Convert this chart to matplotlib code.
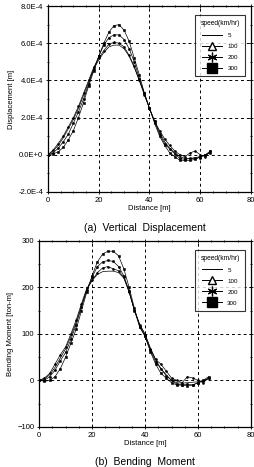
"""Vertical displacement and bending moment along the span for several train speeds."""

import matplotlib
matplotlib.use("Agg")
import matplotlib.pyplot as plt
from matplotlib.lines import Line2D
from matplotlib.ticker import MultipleLocator, FuncFormatter
import numpy as np

# Data
distance = np.arange(0, 66, 2)
speeds = ["5", "100", "200", "300"]

disp_5 = [0, 0.2, 0.5, 0.9, 1.4, 1.9, 2.5, 3.2, 3.9, 4.6, 5.1, 5.5, 5.8, 5.9, 5.9, 5.7, 5.3,
          4.7, 4.0, 3.3, 2.5, 1.8, 1.2, 0.7, 0.35, 0.1, -0.1, -0.2, -0.2, -0.15, -0.1, 0.0, 0.1]
disp_100 = [0, 0.25, 0.6, 1.0, 1.5, 2.0, 2.6, 3.3, 4.0, 4.7, 5.2, 5.6, 5.95, 6.05, 6.0, 5.8, 5.35,
            4.75, 4.0, 3.2, 2.5, 1.8, 1.3, 0.85, 0.5, 0.2, 0.0, -0.1, 0.1, 0.2, 0.0, -0.1, 0.2]
disp_200 = [0, 0.1, 0.35, 0.7, 1.1, 1.7, 2.3, 3.0, 3.8, 4.6, 5.3, 5.9, 6.3, 6.45, 6.45, 6.2, 5.7,
            5.0, 4.1, 3.3, 2.5, 1.8, 1.1, 0.6, 0.3, 0.05, -0.2, -0.25, -0.2, -0.2, -0.15, 0.0, 0.1]
disp_300 = [0, 0.05, 0.15, 0.4, 0.8, 1.3, 2.0, 2.8, 3.7, 4.5, 5.3, 6.0, 6.6, 6.95, 7.0, 6.7, 6.1,
            5.2, 4.3, 3.3, 2.5, 1.7, 1.0, 0.5, 0.1, -0.1, -0.3, -0.3, -0.3, -0.25, -0.1, 0.0, 0.2]

mom_5 = [0, 3, 12, 28, 48, 68, 95, 125, 160, 195, 215, 228, 234, 235, 235, 232, 220,
         190, 150, 120, 100, 70, 45, 25, 12, 0, -5, -6, -5, -4, -3, 0, 3]
mom_100 = [0, 5, 15, 35, 55, 72, 100, 130, 165, 198, 215, 232, 242, 245, 240, 236, 222,
           190, 152, 120, 98, 68, 45, 35, 20, 5, 0, -5, 8, 5, 0, -5, 5]
mom_200 = [0, 0, 8, 22, 42, 60, 88, 120, 158, 195, 222, 245, 255, 258, 256, 245, 225,
           192, 150, 115, 95, 65, 40, 25, 10, 0, -8, -10, -8, -10, -5, -2, 5]
mom_300 = [0, -2, 0, 8, 25, 50, 80, 110, 150, 190, 225, 255, 272, 278, 278, 268, 240,
           200, 155, 115, 95, 62, 35, 15, 5, -5, -10, -10, -12, -10, -5, 0, 8]

disp_series = [disp_5, disp_100, disp_200, disp_300]
mom_series = [mom_5, mom_100, mom_200, mom_300]

plt.rcParams["font.family"] = ["Liberation Sans", "DejaVu Sans"]

fig = plt.figure(figsize=(2.54, 4.67), dpi=100)
ax1 = fig.add_axes([0.189, 0.589, 0.799, 0.398])
ax2 = fig.add_axes([0.154, 0.086, 0.834, 0.398])

# small dots on the curves, big symbols only in the legend
plot_markers = [None, "o", "o", "s"]
plot_sizes = [0, 1.4, 1.6, 1.6]
legend_styles = [
    dict(marker=None),
    dict(marker="^", markersize=5.5, markerfacecolor="white", markeredgecolor="black"),
    dict(marker=(6, 2, 0), markersize=7, markeredgewidth=0.9),
    dict(marker="s", markersize=6.5, markerfacecolor="black"),
]


def style_axes(ax):
    ax.set_xlim(0, 80)
    ax.xaxis.set_major_locator(MultipleLocator(20))
    ax.xaxis.set_minor_locator(MultipleLocator(5))
    ax.grid(True, which="major", color="black", linestyle=(0, (3, 3)), linewidth=0.7)
    ax.tick_params(which="both", direction="inout", top=True, right=True, labelsize=5.5,
                   length=3, width=0.6, pad=2)
    ax.tick_params(which="minor", length=2)
    for s in ax.spines.values():
        s.set_linewidth(0.9)
    ax.set_xlabel("Distance [m]", fontsize=5.5, labelpad=1)
    handles = [Line2D([0], [0], color="black", linewidth=0.7, **st) for st in legend_styles]
    leg = ax.legend(handles, speeds, title="speed(km/hr)", loc="upper right",
                    fontsize=4.5, title_fontsize=4.8, frameon=True, fancybox=False,
                    edgecolor="black", handlelength=3.2, labelspacing=0.9,
                    borderpad=0.8, bbox_to_anchor=(0.985, 0.97))
    leg.get_frame().set_linewidth(0.8)


for ax, series in [(ax1, disp_series), (ax2, mom_series)]:
    for vals, mk, ms in zip(series, plot_markers, plot_sizes):
        ax.plot(distance, vals, color="black", linewidth=0.5, marker=mk,
                markersize=ms, markerfacecolor="black", markeredgewidth=0.4)
    style_axes(ax)

ax1.set_ylim(-2.0, 8.0)
ax1.yaxis.set_major_locator(MultipleLocator(2))
ax1.yaxis.set_minor_locator(MultipleLocator(1))
ax1.yaxis.set_major_formatter(FuncFormatter(lambda v, p: "0.0E+0" if abs(v) < 1e-9 else f"{v:.1f}E-4"))
ax1.set_ylabel("Displacement [m]", fontsize=5.5, labelpad=2)

ax2.set_ylim(-100, 300)
ax2.yaxis.set_major_locator(MultipleLocator(100))
ax2.yaxis.set_minor_locator(MultipleLocator(50))
ax2.set_ylabel("Bending Moment [ton-m]", fontsize=5.5, labelpad=2)

fig.text(0.57, 1 - 228 / 467, "(a)  Vertical  Displacement", ha="center", va="center", fontsize=7.5)
fig.text(0.57, 1 - 462 / 467, "(b)  Bending  Moment", ha="center", va="center", fontsize=7.5)

fig.savefig("out.png", dpi=100)
